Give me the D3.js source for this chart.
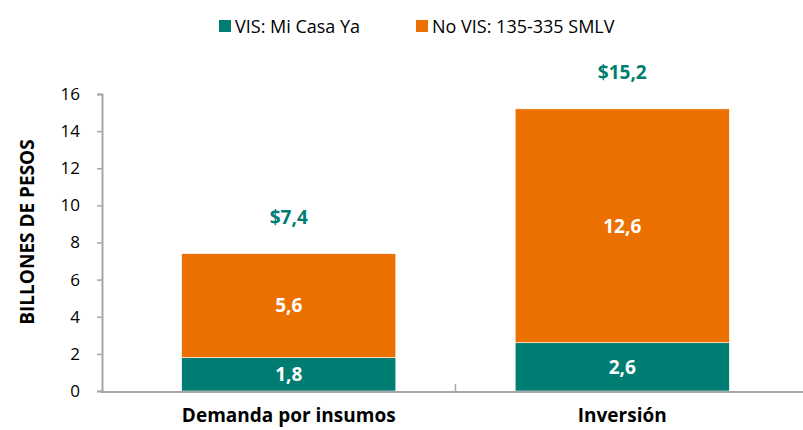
<!DOCTYPE html>
<html>
<head>
<meta charset="utf-8">
<script src="https://cdn.jsdelivr.net/npm/d3@7"></script>
<style>
  body { margin: 0; background: #fff; }
  text { font-family: "Open Sans", "Noto Sans", sans-serif; }
</style>
</head>
<body>
<div id="chart"></div>
<script>
const categories = ['Demanda por insumos', 'Inversión'];
const seriesNames = ['VIS: Mi Casa Ya', 'No VIS: 135-335 SMLV'];
const visValues = [1.8, 2.6];
const noVisValues = [5.6, 12.6];
const totals = [7.4, 15.2];
const yTicks = [0, 2, 4, 6, 8, 10, 12, 14, 16];

const width = 803;
const height = 430;
const colors = ['#007D72', '#EC7000'];

const svg = d3.select('#chart')
  .append('svg')
  .attr('width', width)
  .attr('height', height);

const x = d3.scaleBand()
  .domain(categories)
  .range([122, 789])
  .paddingInner(0.358)
  .paddingOuter(0.179);

const y = d3.scaleLinear()
  .domain([0, 16])
  .range([391, 94]);

const stackData = categories.map((c, i) => ({ cat: c, vis: visValues[i], novis: noVisValues[i] }));
const series = d3.stack().keys(['vis', 'novis'])(stackData);

// bars
svg.append('g')
  .selectAll('g')
  .data(series)
  .join('g')
  .attr('fill', (d, i) => colors[i])
  .selectAll('rect')
  .data(d => d)
  .join('rect')
  .attr('x', d => x(d.data.cat))
  .attr('y', d => y(d[1]))
  .attr('width', x.bandwidth())
  .attr('height', d => y(d[0]) - y(d[1]))
  .attr('stroke', '#fff')
  .attr('stroke-width', 0.6);

// segment labels
svg.append('g')
  .selectAll('g')
  .data(series)
  .join('g')
  .selectAll('text')
  .data(d => d)
  .join('text')
  .attr('x', d => x(d.data.cat) + x.bandwidth() / 2)
  .attr('y', d => (y(d[0]) + y(d[1])) / 2)
  .attr('dy', '0.36em')
  .attr('text-anchor', 'middle')
  .attr('fill', '#fff')
  .attr('font-weight', 'bold')
  .attr('font-size', 19)
  .text(d => d3.format('.1f')(d[1] - d[0]).replace('.', ','));

// totals
svg.append('g')
  .selectAll('text')
  .data(totals)
  .join('text')
  .attr('x', (d, i) => x(categories[i]) + x.bandwidth() / 2)
  .attr('y', d => y(d) - 30)
  .attr('text-anchor', 'middle')
  .attr('fill', colors[0])
  .attr('font-weight', 'bold')
  .attr('font-size', 19)
  .text(d => '$' + d3.format('.1f')(d).replace('.', ','));

// y axis
const yAxis = svg.append('g')
  .attr('transform', 'translate(102,0)')
  .call(d3.axisLeft(y).tickValues(yTicks).tickSize(5).tickPadding(17));
yAxis.select('.domain').attr('stroke', '#A6A6A6').attr('stroke-width', 2);
yAxis.selectAll('.tick line').attr('stroke', '#A6A6A6').attr('stroke-width', 1.5);
yAxis.selectAll('.tick text')
  .attr('font-size', 17)
  .attr('fill', '#000')
  .style('font-family', '"Open Sans", sans-serif');

// x axis
svg.append('line')
  .attr('x1', 101).attr('x2', 803)
  .attr('y1', 392).attr('y2', 392)
  .attr('stroke', '#A6A6A6').attr('stroke-width', 2);
const mid = x(categories[1]) - x.step() * x.paddingInner() / 2;
svg.append('line')
  .attr('x1', mid).attr('x2', mid)
  .attr('y1', 384).attr('y2', 392)
  .attr('stroke', '#A6A6A6').attr('stroke-width', 1.5);

svg.append('g')
  .selectAll('text')
  .data(categories)
  .join('text')
  .attr('x', d => x(d) + x.bandwidth() / 2)
  .attr('y', 422)
  .attr('text-anchor', 'middle')
  .attr('font-weight', 'bold')
  .attr('font-size', 19)
  .attr('fill', '#000')
  .text(d => d);

// y label
svg.append('text')
  .attr('transform', 'translate(34,232) rotate(-90)')
  .attr('text-anchor', 'middle')
  .attr('font-weight', 'bold')
  .attr('font-size', 19)
  .attr('fill', '#000')
  .text('BILLONES DE PESOS');

// legend
const legendX = [219, 416];
const legend = svg.append('g')
  .selectAll('g')
  .data(seriesNames)
  .join('g')
  .attr('transform', (d, i) => `translate(${legendX[i]},20)`);
legend.append('rect')
  .attr('width', 12).attr('height', 12)
  .attr('fill', (d, i) => colors[i]);
legend.append('text')
  .attr('x', 16).attr('y', 13)
  .attr('font-size', 18)
  .attr('fill', '#000')
  .text(d => d);
</script>
</body>
</html>
